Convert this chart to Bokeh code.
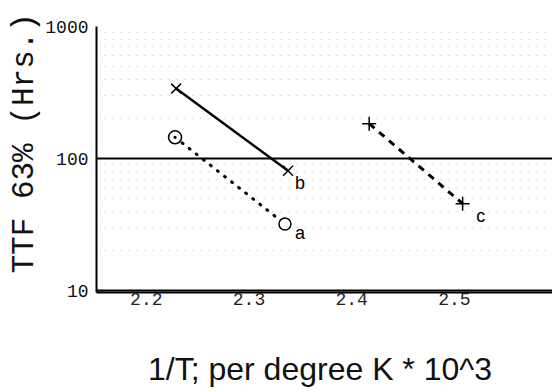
from bokeh.plotting import figure
from bokeh.models import Range1d, FixedTicker, Title, ColumnDataSource
from bokeh.core.properties import value
from bokeh.embed import file_html
from bokeh.resources import INLINE

# ---- data ----
a_x = [2.228, 2.335]
a_y = [145, 32]
b_x = [2.229, 2.338]
b_y = [339, 81]
c_x = [2.417, 2.508]
c_y = [184, 45.6]
series_labels = ["a", "b", "c"]
x_ticks = [2.2, 2.3, 2.4, 2.5]
y_ticks = [10, 100, 1000]
y_tick_labels = ["10", "100", "1000"]
y_minor = [m * 10 ** e for e in (1, 2) for m in range(2, 10)]
x_title = "1/T; per degree K  * 10^3"
y_title = "TTF 63% (Hrs.)"

p = figure(width=552, height=392, title=None,
           x_range=Range1d(2.1515, 2.5955), y_range=Range1d(9.7, 1000),
           y_axis_type="log", output_backend="svg", toolbar_location=None,
           min_border_left=96, min_border_right=0, min_border_top=26,
           min_border_bottom=100)
p.outline_line_color = None
p.background_fill_color = "white"
p.border_fill_color = "white"

# grids
p.xgrid.visible = False
p.ygrid.ticker = FixedTicker(ticks=y_ticks, minor_ticks=y_minor)
p.ygrid.grid_line_color = "black"
p.ygrid.grid_line_width = 2
p.ygrid.grid_line_alpha = 1
p.ygrid.minor_grid_line_color = "#555555"
p.ygrid.minor_grid_line_alpha = 0.35
p.ygrid.minor_grid_line_dash = "1 7"
p.ygrid.minor_grid_line_width = 1

# y axis
ya = p.yaxis[0]
ya.ticker = FixedTicker(ticks=y_ticks)
ya.major_label_overrides = {t: l for t, l in zip(y_ticks, y_tick_labels)}
ya.axis_line_color = "black"
ya.axis_line_width = 2
ya.major_tick_line_color = None
ya.minor_tick_line_color = None
ya.major_tick_out = 0
ya.major_tick_in = 0
ya.minor_tick_out = 0
ya.minor_tick_in = 0
ya.major_label_standoff = 8
ya.major_label_text_font = "Liberation Mono"
ya.major_label_text_font_size = "18px"
ya.major_label_text_color = "#111111"

# x axis
xa = p.xaxis[0]
xa.ticker = FixedTicker(ticks=x_ticks)
xa.axis_line_color = "black"
xa.axis_line_width = 2
xa.major_tick_line_color = None
xa.minor_tick_line_color = None
xa.major_tick_out = 0
xa.major_tick_in = 0
xa.minor_tick_out = 0
xa.minor_tick_in = 0
xa.major_label_standoff = 0
xa.major_label_text_font = "Liberation Mono"
xa.major_label_text_font_size = "18px"
xa.major_label_text_color = "#222222"
xa.axis_label = x_title
xa.axis_label_text_font = "Liberation Sans"
xa.axis_label_text_font_size = "32px"
xa.axis_label_text_font_style = "normal"
xa.axis_label_text_color = "#111111"
xa.axis_label_standoff = 43

# y title
yt = Title(text=y_title, align="left", offset=19, standoff=2,
           text_font="Liberation Mono", text_font_size="31px",
           text_font_style="normal", text_color="#111111")
p.add_layout(yt, "left")

# series lines
p.line(b_x, b_y, line_color="black", line_width=2.5)
p.line(a_x, a_y, line_color="black", line_width=3, line_dash="1 8", line_cap="round")
p.line(c_x, c_y, line_color="black", line_width=3, line_dash="7 6")

# markers
p.scatter(b_x, b_y, marker="x", size=14, line_color="black", line_width=1.5)
p.scatter(a_x[:1], a_y[:1], marker="circle_dot", size=13, line_color="black",
          fill_color="white", line_width=1.5)
p.scatter(a_x[1:], a_y[1:], marker="circle", size=12, line_color="black",
          fill_color="white", line_width=1.5)
p.scatter(c_x, c_y, marker="cross", size=14, line_color="black", line_width=1.5)

# end labels
lab = ColumnDataSource(dict(
    x=[a_x[-1], b_x[-1], c_x[-1]],
    y=[a_y[-1], b_y[-1], c_y[-1]],
    text=series_labels,
    dx=[15, 12, 18],
    dy=[9, 12, 12],
))
p.text(x="x", y="y", text="text", x_offset="dx", y_offset="dy", source=lab,
       text_font=value("Liberation Sans"), text_font_size="18px",
       text_align="center", text_baseline="middle", text_color="black")

open("out.html", "w").write(file_html(p, INLINE))
